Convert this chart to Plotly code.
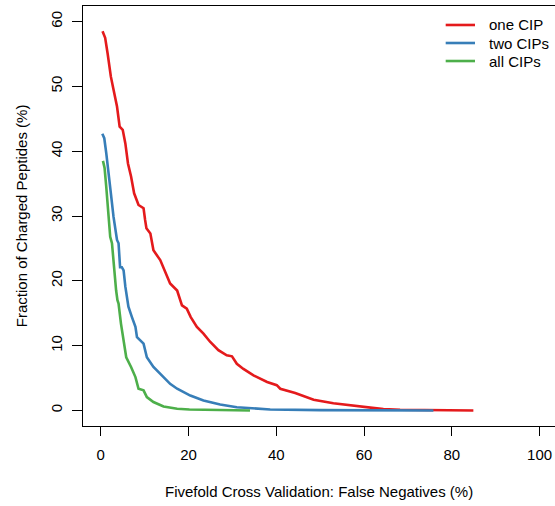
import plotly.graph_objects as go

# Data
red_x = [0.4, 1.0, 1.55, 2.3, 2.9, 3.7, 4.3, 5.0, 5.6, 6.2, 6.9, 7.6, 8.6, 9.75, 10.1, 10.4, 11.3, 12.0,
         13.55, 14.5, 15.8, 17.4, 18.5, 19.6, 20.5, 21.9, 23.4, 24.9, 26.8, 28.7, 29.9, 31.0, 32.5, 34.8,
         37.9, 40.1, 40.9, 44.3, 48.5, 53, 56.8, 60.6, 64.4, 68.2, 75.7, 84.9]
red_y = [58.5, 57.5, 55.1, 51.5, 49.5, 46.9, 43.8, 43.3, 41.2, 38.1, 36.1, 33.5, 31.7, 31.2, 29.4, 28.1,
         27.3, 24.7, 23.2, 21.6, 19.6, 18.5, 16.2, 15.7, 14.4, 12.9, 11.85, 10.6, 9.3, 8.5, 8.35, 7.2, 6.4,
         5.4, 4.4, 3.9, 3.35, 2.7, 1.65, 1.1, 0.77, 0.42, 0.2, 0.1, 0.05, 0.0]

blue_x = [0.35, 0.8, 1.25, 1.8, 2.3, 2.9, 3.3, 3.7, 4.05, 4.4, 4.8, 5.2, 5.6, 6.0, 6.3, 7.1, 7.9, 8.25,
          9.75, 10.5, 12.0, 14.3, 15.8, 17.4, 18.9, 20.4, 23.4, 27.2, 31, 38.6, 50, 75.8]
blue_y = [42.7, 42.0, 39.7, 36.8, 33.5, 29.9, 28.3, 26.3, 25.8, 22.1, 22.1, 21.6, 19.1, 17.5, 16.0, 14.4,
          12.9, 11.3, 10.3, 8.2, 6.7, 5.15, 4.1, 3.35, 2.8, 2.3, 1.55, 0.93, 0.5, 0.15, 0.05, 0.0]

green_x = [0.5, 0.87, 1.25, 1.6, 1.8, 2.15, 2.55, 2.9, 3.3, 3.5, 3.8, 4.05, 4.6, 5.2, 5.8, 6.9, 7.9, 8.6,
           9.75, 10.5, 12, 14.3, 17.4, 20.2, 34]
green_y = [38.5, 37.4, 34.5, 31.4, 29.9, 26.8, 25.8, 22.7, 19.6, 18.5, 17.0, 16.5, 13.4, 10.8, 8.2, 6.7,
           5.15, 3.35, 3.1, 2.05, 1.3, 0.6, 0.26, 0.15, 0.0]

series_names = ["one CIP", "two CIPs", "all CIPs"]
series_colors = ["#E41A1C", "#377EB8", "#4DAF4A"]
x_ticks = [0, 20, 40, 60, 80, 100]
y_ticks = [0, 10, 20, 30, 40, 50, 60]

FONT = "Liberation Sans, Arial, Helvetica, sans-serif"

fig = go.Figure()
for xs, ys, name, col in zip([red_x, blue_x, green_x], [red_y, blue_y, green_y], series_names, series_colors):
    fig.add_trace(go.Scatter(x=xs, y=ys, mode="lines", name=name,
                             line=dict(color=col, width=2.6)))

# Manual legend (R-style compact legend)
leg_x0, leg_x1, leg_tx = 0.7684, 0.8305, 0.8559
leg_rows = [0.9548, 0.9119, 0.8690]
shapes = []
annotations = []
for name, col, ly in zip(series_names, series_colors, leg_rows):
    shapes.append(dict(type="line", xref="paper", yref="paper", x0=leg_x0, x1=leg_x1, y0=ly, y1=ly,
                       line=dict(color=col, width=2.6)))
    annotations.append(dict(text=name, xref="paper", yref="paper", x=leg_tx, y=ly,
                            xanchor="left", yanchor="middle", showarrow=False, font=dict(size=15)))

annotations += [
    dict(text="Fivefold Cross Validation: False Negatives (%)", xref="paper", yref="paper",
         x=0.5, y=-0.155, xanchor="center", yanchor="middle", showarrow=False,
         font=dict(size=15)),
    dict(text="Fraction of Charged Peptides (%)", xref="paper", yref="paper",
         x=-0.131, y=0.5, xanchor="center", yanchor="middle", showarrow=False,
         textangle=-90, font=dict(size=15)),
]

fig.update_layout(
    width=555, height=506,
    margin=dict(l=83, r=0, t=6, b=80),
    paper_bgcolor="white", plot_bgcolor="white",
    font=dict(family=FONT, size=15, color="black"),
    showlegend=False,
    xaxis=dict(range=[-4.05, 103.5], tickvals=x_ticks, ticks="outside", ticklen=9,
               tickcolor="black", showline=True, linecolor="black", linewidth=1, mirror=True,
               showgrid=False, zeroline=False, ticklabelstandoff=6),
    yaxis=dict(range=[-2.4, 62.4], tickvals=y_ticks, ticks="outside", ticklen=10,
               tickcolor="black", showline=True, linecolor="black", linewidth=1, mirror=True,
               showgrid=False, zeroline=False, tickangle=-90, ticklabelstandoff=4),
    shapes=shapes,
    annotations=annotations,
)

fig.write_html("out.html")
